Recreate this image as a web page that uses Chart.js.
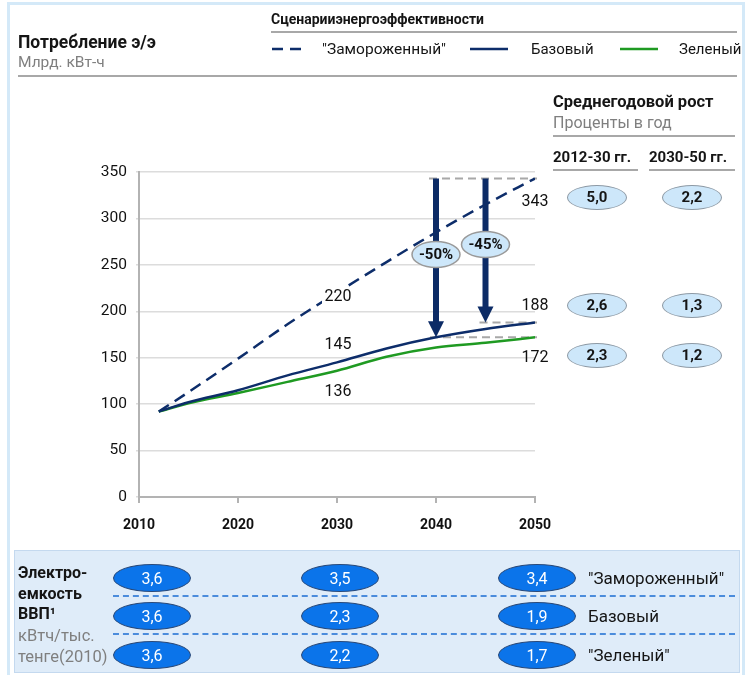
<!DOCTYPE html>
<html><head><meta charset="utf-8">
<script src="https://cdn.jsdelivr.net/npm/chart.js@4/dist/chart.umd.min.js"></script>
<style>
html,body{margin:0;padding:0;}
body{width:747px;height:675px;overflow:hidden;background:#fff;font-family:Roboto,"Noto Sans",sans-serif;color:#151515;position:relative;}
.t{position:absolute;white-space:nowrap;line-height:20px;height:20px;}
.b{font-weight:bold;}
.g{color:#7f7f7f;}
.hl{position:absolute;height:2px;background:#a8a8a8;}
.ell{position:absolute;border-radius:50%;box-sizing:border-box;display:flex;align-items:center;justify-content:center;}
.e1{background:#cde7fa;border:1.5px solid #8e9aa5;font-weight:bold;font-size:15px;}
.e2{background:#0b74ea;border:1.5px solid #2a4a7a;color:#fff;font-size:16px;}
#frame{position:absolute;left:7px;top:2px;width:738px;height:700px;border:3px solid #d4e9f8;box-sizing:border-box;}
#panel{position:absolute;left:14px;top:550px;width:726px;height:123px;background:#dfecf9;border:1.5px solid #c4d9ef;box-sizing:border-box;}
.dsh{position:absolute;left:113px;width:622px;height:0;border-top:2px dashed #4b8cdc;}
canvas{position:absolute;left:0;top:0;z-index:2;}
#ov{position:absolute;left:0;top:0;width:747px;height:675px;z-index:3;pointer-events:none;}
</style></head>
<body>
<div id="frame"></div>
<div id="panel"></div>
<canvas id="c" width="747" height="675"></canvas>
<div id="ov"></div>
<script>
// ---- data ----
const years  = [2012, 2015, 2020, 2025, 2030, 2035, 2040, 2045, 2050];
const frozen = [92, 113, 149, 186, 220, 253, 285, 315, 343];
const base   = [92, 102, 115, 131, 145, 160, 172, 181, 188];
const green  = [92, 101, 112, 124, 136, 151, 161, 166, 172];
const seriesNames = ['"Замороженный"', 'Базовый', 'Зеленый'];
const yTickValues = [0, 50, 100, 150, 200, 250, 300, 350];
const xTickValues = [2010, 2020, 2030, 2040, 2050];
const arrowYears = [2040, 2045];
const arrowFrom  = [343, 343];
const arrowTo    = [172, 188];
const arrowLabels = ['-50%', '-45%'];
const growthPeriods = ['2012-30 гг.', '2030-50 гг.'];
const growth2012_30 = [5.0, 2.6, 2.3];
const growth2030_50 = [2.2, 1.3, 1.2];
const intensityRows = ['"Замороженный"', 'Базовый', '"Зеленый"'];
const intensity2012 = [3.6, 3.6, 3.6];
const intensity2030 = [3.5, 2.3, 2.2];
const intensity2050 = [3.4, 1.9, 1.7];

const NAVY = '#0d2d6a', GREEN = '#1f9a22';
const fmt = v => v.toFixed(1).replace('.', ',');
const pts = arr => years.map((yr, i) => ({x: yr, y: arr[i]}));
const at = (arr, yr) => arr[years.indexOf(yr)];

// ---- overlay html ----
const ov = document.getElementById('ov');
function txt(s, left, cy, size, cls, extra) {
  const d = document.createElement('div');
  d.className = 't ' + (cls || '');
  d.textContent = s;
  d.style.left = left + 'px';
  d.style.top = (cy - 10) + 'px';
  d.style.fontSize = size + 'px';
  if (extra) Object.assign(d.style, extra);
  ov.appendChild(d); return d;
}
function hl(left, right, y) {
  const d = document.createElement('div'); d.className = 'hl';
  d.style.left = left + 'px'; d.style.width = (right - left) + 'px'; d.style.top = (y - 1) + 'px';
  ov.appendChild(d);
}
function ell(cls, cx, cy, w, h, s) {
  const d = document.createElement('div'); d.className = 'ell ' + cls;
  d.style.left = (cx - w / 2) + 'px'; d.style.top = (cy - h / 2) + 'px';
  d.style.width = w + 'px'; d.style.height = h + 'px';
  d.textContent = s; ov.appendChild(d);
}
function seg(x1, x2, y, color, dash) {
  const s = document.createElementNS('http://www.w3.org/2000/svg', 'svg');
  s.setAttribute('width', x2 - x1); s.setAttribute('height', 6);
  s.style.position = 'absolute'; s.style.left = x1 + 'px'; s.style.top = (y - 3) + 'px';
  s.innerHTML = `<line x1="0" y1="3" x2="${x2 - x1}" y2="3" stroke="${color}" stroke-width="2.5" ${dash ? 'stroke-dasharray="11,7"' : ''}/>`;
  ov.appendChild(s);
}
// header
txt('Потребление э/э', 18, 42, 17.5, 'b');
txt('Млрд. кВт-ч', 18, 62, 15.5, 'g');
hl(18, 737, 76);
txt('Сценарииэнергоэффективности', 271, 19, 14, 'b');
hl(271, 737, 32);
seg(272, 308, 49, NAVY, true);
txt(seriesNames[0], 322, 49, 15.5);
seg(470, 508, 49, NAVY, false);
txt(seriesNames[1], 531, 49, 15);
seg(620, 658, 49, GREEN, false);
txt(seriesNames[2], 679, 49, 15);
// right panel
txt('Среднегодовой рост', 553, 102, 16.5, 'b');
txt('Проценты в год', 553, 123, 16, 'g');
hl(553, 735, 136);
txt(growthPeriods[0], 553, 157, 15, 'b');
txt(growthPeriods[1], 649, 157, 15, 'b');
hl(553, 638, 170);
hl(649, 735, 170);
const growthY = [197, 305, 355];
growthY.forEach((cy, i) => {
  ell('e1', 597, cy, 60, 25, fmt(growth2012_30[i]));
  ell('e1', 692, cy, 60, 25, fmt(growth2030_50[i]));
});
// bottom panel
txt('Электро-', 18, 573, 16, 'b');
txt('емкость', 18, 594, 16, 'b');
txt('ВВП¹', 18, 614, 16, 'b');
txt('кВтч/тыс.', 18, 636, 16.5, 'g');
txt('тенге(2010)', 18, 657, 16.5, 'g');
[596, 634].forEach(y => { const d = document.createElement('div'); d.className = 'dsh'; d.style.top = (y - 1) + 'px'; ov.appendChild(d); });
const rowY = [578, 616, 655];
rowY.forEach((cy, i) => {
  ell('e2', 152, cy, 78, 28, fmt(intensity2012[i]));
  ell('e2', 340, cy, 78, 28, fmt(intensity2030[i]));
  ell('e2', 537, cy, 78, 28, fmt(intensity2050[i]));
  txt(intensityRows[i], 588, cy, 17);
});

// ---- chart ----
const annot = {
  id: 'annot',
  beforeDatasetsDraw(chart) {
    const {ctx, scales: {x, y}} = chart;
    ctx.save();
    ctx.strokeStyle = '#a8a8a8'; ctx.lineWidth = 2; ctx.setLineDash([8, 5]);
    const xEnd = x.getPixelForValue(2050) + 2;
    const xs0 = x.getPixelForValue(arrowYears[0]) - 7;
    ctx.beginPath(); ctx.moveTo(xs0, y.getPixelForValue(arrowFrom[0])); ctx.lineTo(xEnd, y.getPixelForValue(arrowFrom[0])); ctx.stroke();
    arrowYears.forEach((yr, i) => {
      const py = y.getPixelForValue(arrowTo[i]);
      ctx.beginPath(); ctx.moveTo(x.getPixelForValue(yr) - 6, py); ctx.lineTo(xEnd, py); ctx.stroke();
    });
    ctx.restore();
  },
  afterDatasetsDraw(chart) {
    const {ctx, scales: {x, y}} = chart;
    ctx.save();
    ctx.fillStyle = '#0c2b66';
    arrowYears.forEach((yr, i) => {
      const px = x.getPixelForValue(yr);
      const top = y.getPixelForValue(arrowFrom[i]);
      const tip = y.getPixelForValue(arrowTo[i]);
      const hh = 16, hw = 8;
      ctx.fillRect(px - 3, top, 6, tip - hh - top + 1);
      ctx.beginPath(); ctx.moveTo(px - hw, tip - hh); ctx.lineTo(px + hw, tip - hh); ctx.lineTo(px, tip); ctx.closePath(); ctx.fill();
    });
    const labOff = [76, 66];
    arrowYears.forEach((yr, i) => {
      const px = x.getPixelForValue(yr);
      const cy = y.getPixelForValue(arrowFrom[i]) + labOff[i];
      ctx.beginPath(); ctx.ellipse(px, cy, 24, 13, 0, 0, Math.PI * 2);
      ctx.fillStyle = '#cde7fa'; ctx.fill();
      ctx.lineWidth = 1.5; ctx.strokeStyle = '#9a9a9a'; ctx.stroke();
      ctx.fillStyle = '#111'; ctx.font = 'bold 15px Roboto, sans-serif';
      ctx.textAlign = 'center'; ctx.textBaseline = 'middle';
      ctx.fillText(arrowLabels[i], px, cy + 1);
    });
    ctx.font = '16px Roboto, sans-serif'; ctx.textAlign = 'center'; ctx.textBaseline = 'middle';
    const xm = x.getPixelForValue(2030);
    const f30 = at(frozen, 2030), b30 = at(base, 2030), g30 = at(green, 2030);
    const fy = y.getPixelForValue(f30) + 4;
    ctx.fillStyle = '#fff'; ctx.fillRect(xm - 15, fy - 9, 32, 18);
    ctx.fillStyle = '#111';
    ctx.fillText(String(f30), xm + 1, fy);
    ctx.fillText(String(b30), xm + 1, y.getPixelForValue(b30) - 17);
    ctx.fillText(String(g30), xm + 1, y.getPixelForValue(g30) + 21);
    const xe = x.getPixelForValue(2050) + 0;
    const fe = at(frozen, 2050), be = at(base, 2050), ge = at(green, 2050);
    ctx.fillText(String(fe), xe, y.getPixelForValue(fe) + 23);
    ctx.fillText(String(be), xe, y.getPixelForValue(be) - 16);
    ctx.fillText(String(ge), xe, y.getPixelForValue(ge) + 21);
    ctx.restore();
  }
};

new Chart(document.getElementById('c'), {
  type: 'line',
  data: {
    datasets: [
      {label: seriesNames[0], data: pts(frozen), borderColor: NAVY, borderWidth: 2.5, borderDash: [12, 7], pointRadius: 0, cubicInterpolationMode: 'monotone'},
      {label: seriesNames[1], data: pts(base), borderColor: NAVY, borderWidth: 2.5, pointRadius: 0, cubicInterpolationMode: 'monotone'},
      {label: seriesNames[2], data: pts(green), borderColor: GREEN, borderWidth: 2.5, pointRadius: 0, cubicInterpolationMode: 'monotone'}
    ]
  },
  options: {
    responsive: false, animation: false,
    layout: {padding: {left: 80, top: 172, right: 212, bottom: 138}},
    plugins: {legend: {display: false}, tooltip: {enabled: false}},
    scales: {
      x: {
        type: 'linear', min: xTickValues[0], max: xTickValues[xTickValues.length - 1],
        afterBuildTicks: s => { s.ticks = xTickValues.map(v => ({value: v})); },
        afterFit: s => { s.height = 40; },
        ticks: {callback: v => String(v), color: '#111', font: {family: 'Roboto', size: 14, weight: 'bold'}, padding: 14, maxRotation: 0},
        grid: {drawOnChartArea: false, drawTicks: true, tickLength: 6, color: '#b3b3b3', lineWidth: 2},
        border: {display: true, color: '#b3b3b3', width: 2}
      },
      y: {
        min: yTickValues[0], max: yTickValues[yTickValues.length - 1],
        afterBuildTicks: s => { s.ticks = yTickValues.map(v => ({value: v})); },
        afterFit: s => { s.width = 59; },
        ticks: {color: '#111', font: {family: 'Roboto', size: 15.5}, padding: 9},
        grid: {color: '#dcdcdc', lineWidth: 1.5, tickLength: 3},
        border: {display: true, color: '#b3b3b3', width: 2}
      }
    }
  },
  plugins: [annot]
});
</script>
</body></html>
